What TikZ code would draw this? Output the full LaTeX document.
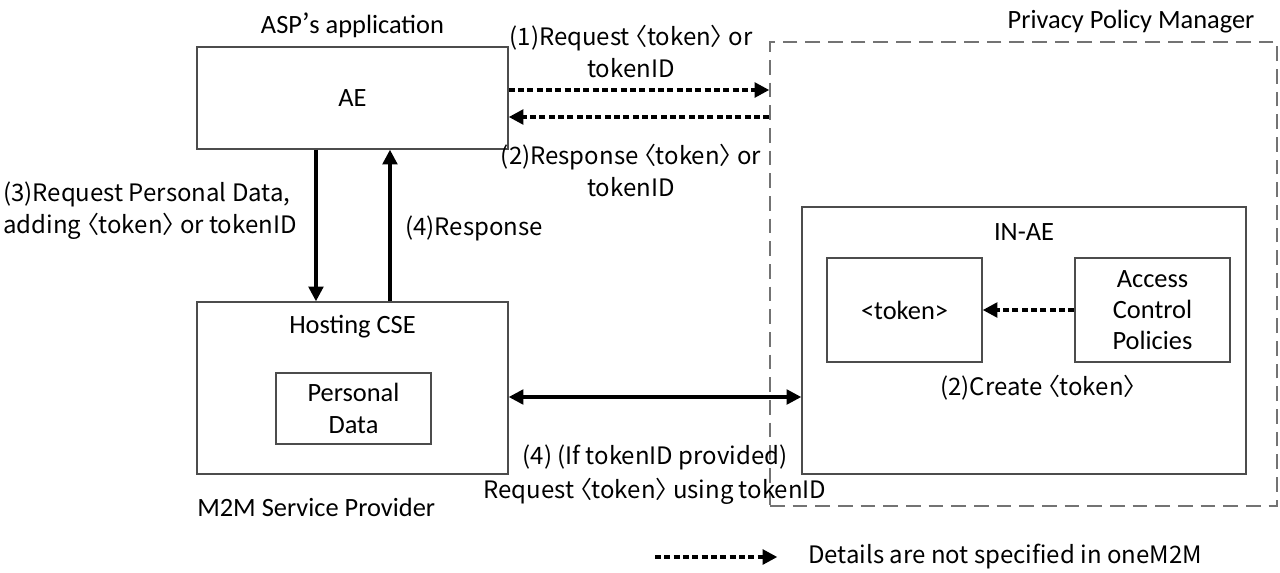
\documentclass[tikz,border=0pt]{standalone}
\usepackage{fontspec}
\setmainfont{Carlito}
\newfontfamily\jp[RawFeature=+palt]{Noto Sans CJK JP}
\usepackage{tikz}
\usetikzlibrary{arrows.meta, calc}

\begin{document}
\begin{tikzpicture}[
  x=0.75pt, y=-0.75pt,
  font=\fontsize{19.8}{24}\selectfont,
  box/.style={draw=black!70, line width=1.1pt, inner sep=0pt, align=center},
  pbox/.style={draw=black!55, line width=1.1pt, dash pattern=on 11pt off 6pt, inner sep=0pt},
  ctxt/.style={inner sep=0pt, align=center},
  jtxt/.style={font=\jp\fontsize{18}{24}\selectfont, inner sep=0pt, align=center},
  arr/.style={-{Triangle[length=11pt, width=11pt]}, line width=2.4pt},
  darr/.style={{Triangle[length=11pt, width=11pt]}-{Triangle[length=11pt, width=11pt]}, line width=2.4pt},
  dotarr/.style={-{Triangle[length=11pt, width=11pt]}, line width=2.6pt, dash pattern=on 4.5pt off 2.5pt},
]
\useasboundingbox (0,0) rectangle (1280,572);

% ASP side
\node[ctxt] (asp) at (352.5, 25) {ASP{\jp ’}s application};
\node[box, minimum width=233.25pt, minimum height=76.5pt] (ae) at (352.5, 98) {AE};

% M2M Service Provider side
\node[box, minimum width=233.25pt, minimum height=129pt] (cse) at (352.5, 388) {};
\node[ctxt] (cselbl) at (352.5, 327) {Hosting CSE};
\node[box, minimum width=116.25pt, minimum height=53.25pt] (pdata) at (353.5, 408.5) {Personal\\Data};
\node[ctxt, anchor=west] (m2m) at (197, 507) {M2M Service Provider};

% Privacy Policy Manager
\node[pbox, minimum width=380.25pt, minimum height=348pt] (ppm) at (1023.5, 274) {};
\node[ctxt] (ppmlbl) at (1131, 22) {Privacy Policy Manager};
\node[box, minimum width=333pt, minimum height=200.25pt] (inae) at (1024, 340.5) {};
\node[ctxt] (inaelbl) at (1024, 232) {IN-AE};
\node[box, minimum width=116.25pt, minimum height=78pt] (tok) at (904.5, 310) {<token>};
\node[box, minimum width=116.25pt, minimum height=78pt, font=\fontsize{19.8}{23.25}\selectfont] (acp) at (1152.5, 310) {Access\\Control\\Policies};
\node[jtxt] (create) at (1038, 388) {(2)Create 〈token〉};

% token request / response
\coordinate (r1) at ([yshift=6pt]ae.east);
\coordinate (r2) at ([yshift=-14.25pt]ae.east);
\draw[dotarr] (r1) -- (r1 -| ppm.west);
\draw[dotarr] (r2 -| ppm.west) -- (r2);
\node[jtxt] (req1) at (631, 51) {(1)Request 〈token〉 or\\tokenID};
\node[jtxt] (resp2) at (631, 170) {(2)Response 〈token〉 or\\tokenID};

% personal data request / response
\coordinate (d1) at ([xshift=-27.4pt]ae.south);
\coordinate (u1) at ([xshift=28.1pt]ae.south);
\draw[arr] (d1) -- (d1 |- cse.north);
\draw[arr] (u1 |- cse.north) -- (u1);
\node[jtxt, align=left, anchor=west] (req3) at (3, 211) {(3)Request Personal Data,\\adding 〈token〉 or tokenID};
\node[jtxt, anchor=west] (resp4) at (405, 228) {(4)Response};

% tokenID lookup
\coordinate (h1) at ([yshift=-6.75pt]cse.east);
\draw[darr] (h1) -- (h1 -| inae.west);
\node[jtxt, font=\jp\fontsize{18}{25.5}\selectfont] (req4) at (655, 475) {(4) (If tokenID provided)\\Request 〈token〉 using tokenID};

\draw[dotarr] (acp) -- (tok);

% legend
\coordinate (lg1) at (655, 557);
\node[jtxt, anchor=west] (legend) at (808, 557) {Details are not specified in oneM2M};
\draw[dotarr] (lg1) -- ([xshift=-23pt]legend.west);

\end{tikzpicture}
\end{document}
